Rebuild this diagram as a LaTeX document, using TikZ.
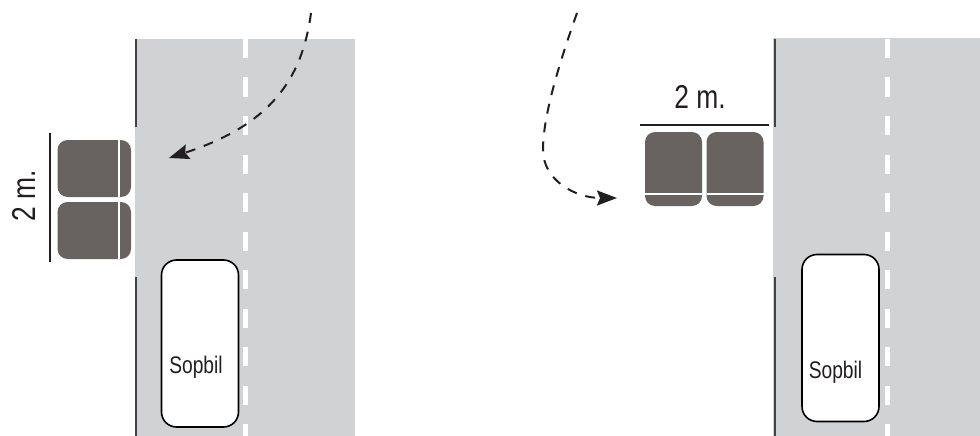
\documentclass[tikz,border=0pt]{standalone}
\usepackage{fontspec}
\setmainfont[FakeStretch=0.8]{Liberation Sans}
\usepackage{tikz}
\usetikzlibrary{positioning, arrows.meta}
\definecolor{road}{HTML}{D1D2D4}
\definecolor{bin}{HTML}{686260}
\definecolor{ink}{HTML}{231F20}
\tikzset{
  roadbed/.style={fill=road, draw=none},
  kerb/.style={draw=ink!85, line width=1.6pt},
  midline/.style={draw=white, line width=5pt},
  sopbil/.style={
    draw=black, line width=1.6pt, fill=white, rounded corners=15pt,
    minimum width=77pt, minimum height=167pt, inner sep=0pt
  },
  binbody/.style={fill=bin, draw=none, rounded corners=10pt},
  binlid/.style={draw=white, line width=1.5pt},
  measure/.style={draw=ink, line width=1.8pt},
  route/.style={
    draw=ink, line width=2pt, dash pattern=on 10pt off 9pt,
    -{Stealth[length=20pt, width=15pt, inset=3pt]}
  },
  biglabel/.style={font=\fontsize{33}{33}\selectfont, text=ink, inner sep=0pt},
  carlabel/.style={font=\fontsize{24}{24}\selectfont, text=ink, inner sep=0pt}
}
\begin{document}
\begin{tikzpicture}[x=1pt, y=-1pt]
  \useasboundingbox (0, 0) rectangle (980, 436);

  % Left road
  \fill[roadbed] (135, 39) rectangle (355, 436);
  \foreach \y in {39, 77.5, ..., 424} {
    \draw[midline] (245, \y) -- (245, \y + 19);
  }
  \draw[kerb] (136, 39) -- (136, 127);
  \draw[kerb] (136, 277) -- (136, 436);

  % Right road
  \fill[roadbed] (773, 38) rectangle (980, 436);
  \foreach \y in {39, 77.5, ..., 424} {
    \draw[midline] (887, \y) -- (887, \y + 19);
  }
  \draw[kerb] (775, 39) -- (775, 127);
  \draw[kerb] (775, 277) -- (775, 436);

  % Cars
  \node[sopbil] (carleft) at (200, 343.5) {};
  \node[carlabel] (textleft) at (196, 367) {Sopbil};
  \node[sopbil] (carright) at (840.5, 338) {};
  \node[carlabel] (textright) at (835.5, 372) {Sopbil};

  % Bins along the road
  \foreach \y in {140, 202} {
    \fill[binbody] (57.5, \y) rectangle (131, \y + 57);
    \draw[binlid] (119, \y) -- (119, \y + 57);
  }
  \draw[measure] (50, 133) -- (50, 262);
  \node[biglabel, rotate=90] (widthleft) at (24, 196) {2 m.};

  % Bins beside the road
  \foreach \x in {645, 706.5} {
    \fill[binbody] (\x, 132) rectangle (\x + 57, 206);
    \draw[binlid] (\x, 194) -- (\x + 57, 194);
  }
  \draw[measure] (640, 125) -- (769, 125);
  \node[biglabel] (widthright) at (700, 97) {2 m.};

  % Routes
  \draw[route] (311, 13) .. controls (302, 80) and (270, 125) .. (169, 158);
  \draw[route] (577, 13) .. controls (555, 75) and (543, 120) .. (543, 150)
    .. controls (543, 180) and (575, 198) .. (617, 198);
\end{tikzpicture}
\end{document}
